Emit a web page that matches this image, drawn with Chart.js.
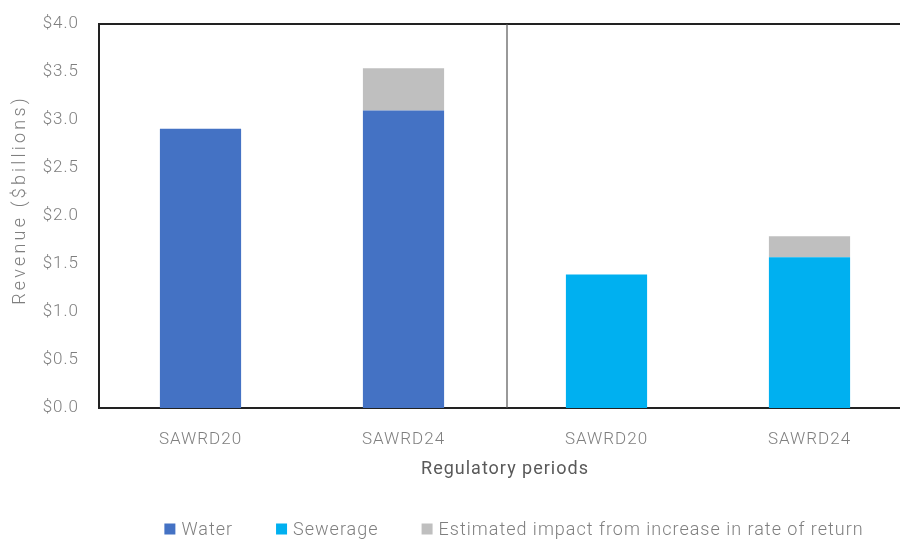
<!DOCTYPE html>
<html>
<head>
<meta charset="utf-8">
<script src="https://cdn.jsdelivr.net/npm/chart.js@4/dist/chart.umd.min.js"></script>
<style>
  html, body { margin: 0; padding: 0; background: #fff; overflow: hidden; }
  #wrap { width: 912px; height: 539px; }
</style>
</head>
<body>
<div id="wrap"><canvas id="c" width="912" height="539"></canvas></div>
<script>
// Regulatory periods shown on the x axis
const categories = ['SAWRD20', 'SAWRD24', 'SAWRD20', 'SAWRD24'];
// Revenue, $ billions
const water = [2.91, 3.10, null, null];
const sewerage = [null, null, 1.39, 1.57];
const rateImpact = [null, 0.44, null, 0.22];
// Y axis tick values
const yTicks = [0, 0.5, 1.0, 1.5, 2.0, 2.5, 3.0, 3.5, 4.0];
const yTitle = 'Revenue ($billions)';

const FONT = 'Roboto';
const SPACING = '1px';

function applySpacing(chart) {
  chart.ctx.letterSpacing = SPACING;
}

// Top frame line, the divider between water and sewerage groups, and the y title
const framePlugin = {
  id: 'frame',
  beforeLayout: applySpacing,
  beforeDraw: applySpacing,
  afterDatasetsDraw(chart) {
    const { ctx, chartArea, scales } = chart;
    ctx.save();
    ctx.strokeStyle = '#222';
    ctx.lineWidth = 2;
    ctx.beginPath();
    ctx.moveTo(chartArea.left - 1, chartArea.top);
    ctx.lineTo(chartArea.right + 2, chartArea.top);
    ctx.stroke();
    const xDiv = (scales.x.getPixelForValue(1) + scales.x.getPixelForValue(2)) / 2;
    ctx.strokeStyle = '#555';
    ctx.lineWidth = 1.2;
    ctx.beginPath();
    ctx.moveTo(xDiv + 2, chartArea.top);
    ctx.lineTo(xDiv + 2, chartArea.bottom);
    ctx.stroke();

    // rotated y-axis title
    ctx.translate(20, (chartArea.top + chartArea.bottom) / 2 - 16);
    ctx.rotate(-Math.PI / 2);
    ctx.letterSpacing = '3.2px';
    ctx.font = `300 18px ${FONT}`;
    ctx.fillStyle = '#7f7f7f';
    ctx.textAlign = 'center';
    ctx.textBaseline = 'middle';
    ctx.fillText(yTitle, 0, 0);
    ctx.restore();
  }
};

// Legend row along the bottom
const legendPlugin = {
  id: 'bottomLegend',
  afterDraw(chart, args, opts) {
    const { ctx } = chart;
    ctx.save();
    ctx.letterSpacing = SPACING;
    ctx.font = `300 ${opts.size}px ${FONT}`;
    ctx.textBaseline = 'middle';
    const items = chart.data.datasets.map(d => ({ text: d.label, color: d.backgroundColor }));
    const widths = items.map(it => opts.box + opts.boxGap + ctx.measureText(it.text).width);
    const total = widths.reduce((a, b) => a + b, 0) + opts.itemGap * (items.length - 1);
    let x = opts.center - total / 2;
    const y = opts.y;
    items.forEach((it, i) => {
      ctx.fillStyle = it.color;
      ctx.fillRect(x, y - opts.box / 2, opts.box, opts.box);
      ctx.fillStyle = '#7f7f7f';
      ctx.fillText(it.text, x + opts.box + opts.boxGap, y + 1);
      x += widths[i] + opts.itemGap;
    });
    ctx.restore();
  }
};

new Chart(document.getElementById('c'), {
  type: 'bar',
  data: {
    labels: categories,
    datasets: [
      { label: 'Water', data: water, backgroundColor: '#4472c4' },
      { label: 'Sewerage', data: sewerage, backgroundColor: '#00b0f0' },
      { label: 'Estimated impact from increase in rate of return', data: rateImpact, backgroundColor: '#bfbfbf' }
    ]
  },
  options: {
    responsive: false,
    animation: false,
    events: [],
    layout: { padding: { top: 24, right: 1, bottom: 47, left: 0 } },
    datasets: { bar: { barPercentage: 0.4, categoryPercentage: 1.0, skipNull: true } },
    plugins: {
      legend: { display: false },
      tooltip: { enabled: false },
      bottomLegend: { center: 514, y: 529, size: 18, box: 11, boxGap: 6, itemGap: 43 }
    },
    scales: {
      x: {
        stacked: true,
        grid: { display: false, drawTicks: false },
        border: { display: true, color: '#222', width: 2 },
        ticks: { color: '#7f7f7f', font: { family: FONT, size: 17, weight: 300 }, padding: 22 },
        title: {
          display: true, text: 'Regulatory periods', color: '#595959',
          font: { family: FONT, size: 18, weight: 400 }, padding: { top: 0, bottom: 12 }
        },
        afterFit(scale) { scale.height = 84; }
      },
      y: {
        stacked: true,
        min: 0, max: 4,
        afterBuildTicks(scale) { scale.ticks = yTicks.map(v => ({ value: v })); },
        grid: { display: false, drawTicks: false },
        border: { display: true, color: '#222', width: 2 },
        ticks: {
          color: '#7f7f7f', font: { family: FONT, size: 17, weight: 300 }, padding: 20,
          callback: v => '$' + Number(v).toFixed(1)
        },
        title: { display: false },
        afterFit(scale) {
          scale.width = 99;
          scale.paddingTop = 0;
          scale.paddingBottom = 0;
        }
      }
    }
  },
  plugins: [framePlugin, legendPlugin]
});
</script>
</body>
</html>
